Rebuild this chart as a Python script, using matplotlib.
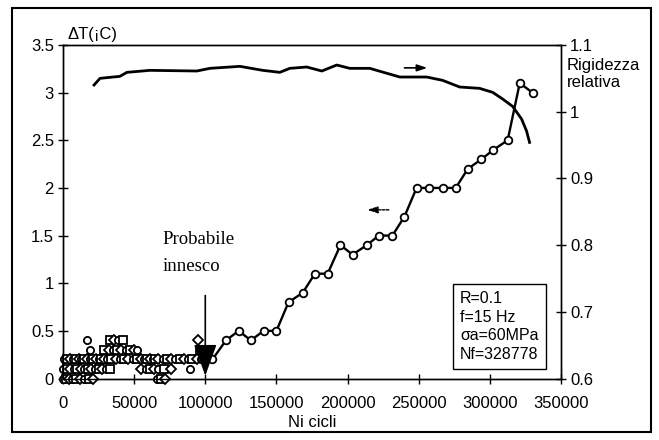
import numpy as np
import matplotlib.pyplot as plt
from matplotlib.patches import Rectangle

plt.rcParams['font.family'] = ['Liberation Sans', 'DejaVu Sans']

# delta T readings before crack initiation (quantised at 0.1 C)
row00_x = [0, 2000, 4000, 6500, 9000, 12000, 15000, 18000, 21000, 66000, 69000, 72000]
row01_x = [0, 2500, 5000, 7500, 10000, 12500, 15000, 17500, 20000, 22500, 25000, 27500,
           30000, 33000, 55000, 58000, 61000, 64000, 67000, 71000, 76000, 89000]
row02_x = [1000, 3000, 5000, 7000, 9000, 11000, 13000, 15000, 17000, 19000, 21000, 23000,
           25000, 27000, 29000, 31000, 34000, 37000, 40000, 43000, 46000, 49000, 52000,
           55000, 57000, 59000, 61000, 63000, 65000, 67000, 70000, 73000, 76000, 79000,
           82000, 85000, 88000, 91000, 94000, 97000]
row03_x = [19000, 29000, 32000, 35000, 38000, 41000, 44000, 47000, 50000, 52000, 96000]
row04_x = [17000, 33000, 36000, 39000, 42000, 95000]
early_rows = [(0.0, row00_x), (0.1, row01_x), (0.2, row02_x), (0.3, row03_x), (0.4, row04_x)]

# delta T after initiation
cycles = [98000, 105000, 114500, 123500, 132000, 141000, 150000, 158500, 168500, 177000,
          186000, 195000, 203500, 213500, 222000, 231500, 240000, 248500, 257500, 267000,
          276000, 284500, 294000, 302500, 312500, 321000, 330000]
delta_t = [0.2, 0.2, 0.4, 0.5, 0.4, 0.5, 0.5, 0.8, 0.9, 1.1,
           1.1, 1.4, 1.3, 1.4, 1.5, 1.5, 1.7, 2.0, 2.0, 2.0,
           2.0, 2.2, 2.3, 2.4, 2.5, 3.1, 3.0]

# relative stiffness
stiff_x = [21800, 26000, 40000, 44900, 61100, 94100, 103200, 124300, 140400, 152400,
           159400, 171300, 181900, 192400, 201500, 215600, 236700, 255600, 266800,
           278800, 292800, 302000, 309000, 316000, 322300, 325800, 327900]
stiff_y = [1.040, 1.050, 1.053, 1.059, 1.062, 1.061, 1.065, 1.068, 1.062, 1.059,
           1.065, 1.067, 1.061, 1.070, 1.065, 1.065, 1.052, 1.052, 1.047,
           1.037, 1.035, 1.029, 1.019, 1.008, 0.989, 0.971, 0.954]

x_ticks = [0, 50000, 100000, 150000, 200000, 250000, 300000, 350000]
left_ticks = [0, 0.5, 1, 1.5, 2, 2.5, 3, 3.5]
left_labels = ['0', '0.5', '1', '1.5', '2', '2.5', '3', '3.5']
right_ticks = [0.6, 0.7, 0.8, 0.9, 1.0, 1.1]
right_labels = ['0.6', '0.7', '0.8', '0.9', '1', '1.1']

fig = plt.figure(figsize=(6.59, 4.40), dpi=100)
ax = fig.add_axes([63/659, 1 - 378.5/440, 498/659, 333.5/440])
ax2 = ax.twinx()

mk = ['o', 's', 'D']
for yv, xs in early_rows:
    for i, xv in enumerate(xs):
        ax.plot(xv, yv, marker=mk[i % 3], ms=5.2, mfc='white', mec='k', mew=1.3,
                ls='none', clip_on=False, zorder=3)

ax.plot(cycles, delta_t, color='k', lw=1.7, marker='o', ms=5.5, mfc='white',
        mec='k', mew=1.3, zorder=4)

ax2.plot(stiff_x, stiff_y, color='k', lw=2.0)

ax.set_xlim(0, 350000)
ax.set_ylim(0, 3.5)
ax2.set_ylim(0.6, 1.1)

ax.set_xticks(x_ticks)
ax.set_xticklabels([str(v) for v in x_ticks])
ax.set_yticks(left_ticks)
ax.set_yticklabels(left_labels)
ax2.set_yticks(right_ticks)
ax2.set_yticklabels(right_labels)

for a in (ax, ax2):
    a.tick_params(direction='inout', length=7, width=1, labelsize=12, pad=3)
    for s in a.spines.values():
        s.set_linewidth(1.0)
ax.tick_params(axis='x', pad=9)

ax.set_xlabel('Ni cicli', fontsize=12, labelpad=3)
ax.text(0.01, 1.01, '\u0394T(\u00a1C)', transform=ax.transAxes, fontsize=12,
        ha='left', va='bottom')
ax.text(1.012, 0.962, 'Rigidezza\nrelativa', transform=ax.transAxes, fontsize=12,
        ha='left', va='top', linespacing=1.2)

# arrows showing which axis each curve belongs to
ax.annotate('', xy=(258000, 3.26), xytext=(238000, 3.26),
            arrowprops=dict(arrowstyle='-|>,head_length=0.6,head_width=0.2',
                            color='k', lw=1.2))
ax.annotate('', xy=(212000, 1.77), xytext=(231000, 1.77),
            arrowprops=dict(arrowstyle='-|>,head_length=0.6,head_width=0.2',
                            color='k', lw=1.0, ls=(0, (2, 1))))

# crack initiation marker
ax.annotate('', xy=(100000, 0.0), xytext=(100000, 0.9),
            arrowprops=dict(arrowstyle='-|>,head_length=1.1,head_width=0.4',
                            color='k', lw=1.2, mutation_scale=18), zorder=5)
ax.text(70000, 1.55, 'Probabile\ninnesco', fontsize=13.5, family='Liberation Serif',
        ha='left', va='top', linespacing=1.75)

ax.text(0.797, 0.05, 'R=0.1\nf=15 Hz\n\u03c3a=60MPa\nNf=328778', transform=ax.transAxes,
        fontsize=11.5, ha='left', va='bottom', linespacing=1.3,
        bbox=dict(boxstyle='square,pad=0.45', fc='white', ec='k', lw=1.0))

fig.patches.append(Rectangle((12/659, 1 - 432/440), 639/659, 424/440,
                             transform=fig.transFigure, fill=False, ec='k', lw=1.5))

fig.savefig('out.png', dpi=100)
